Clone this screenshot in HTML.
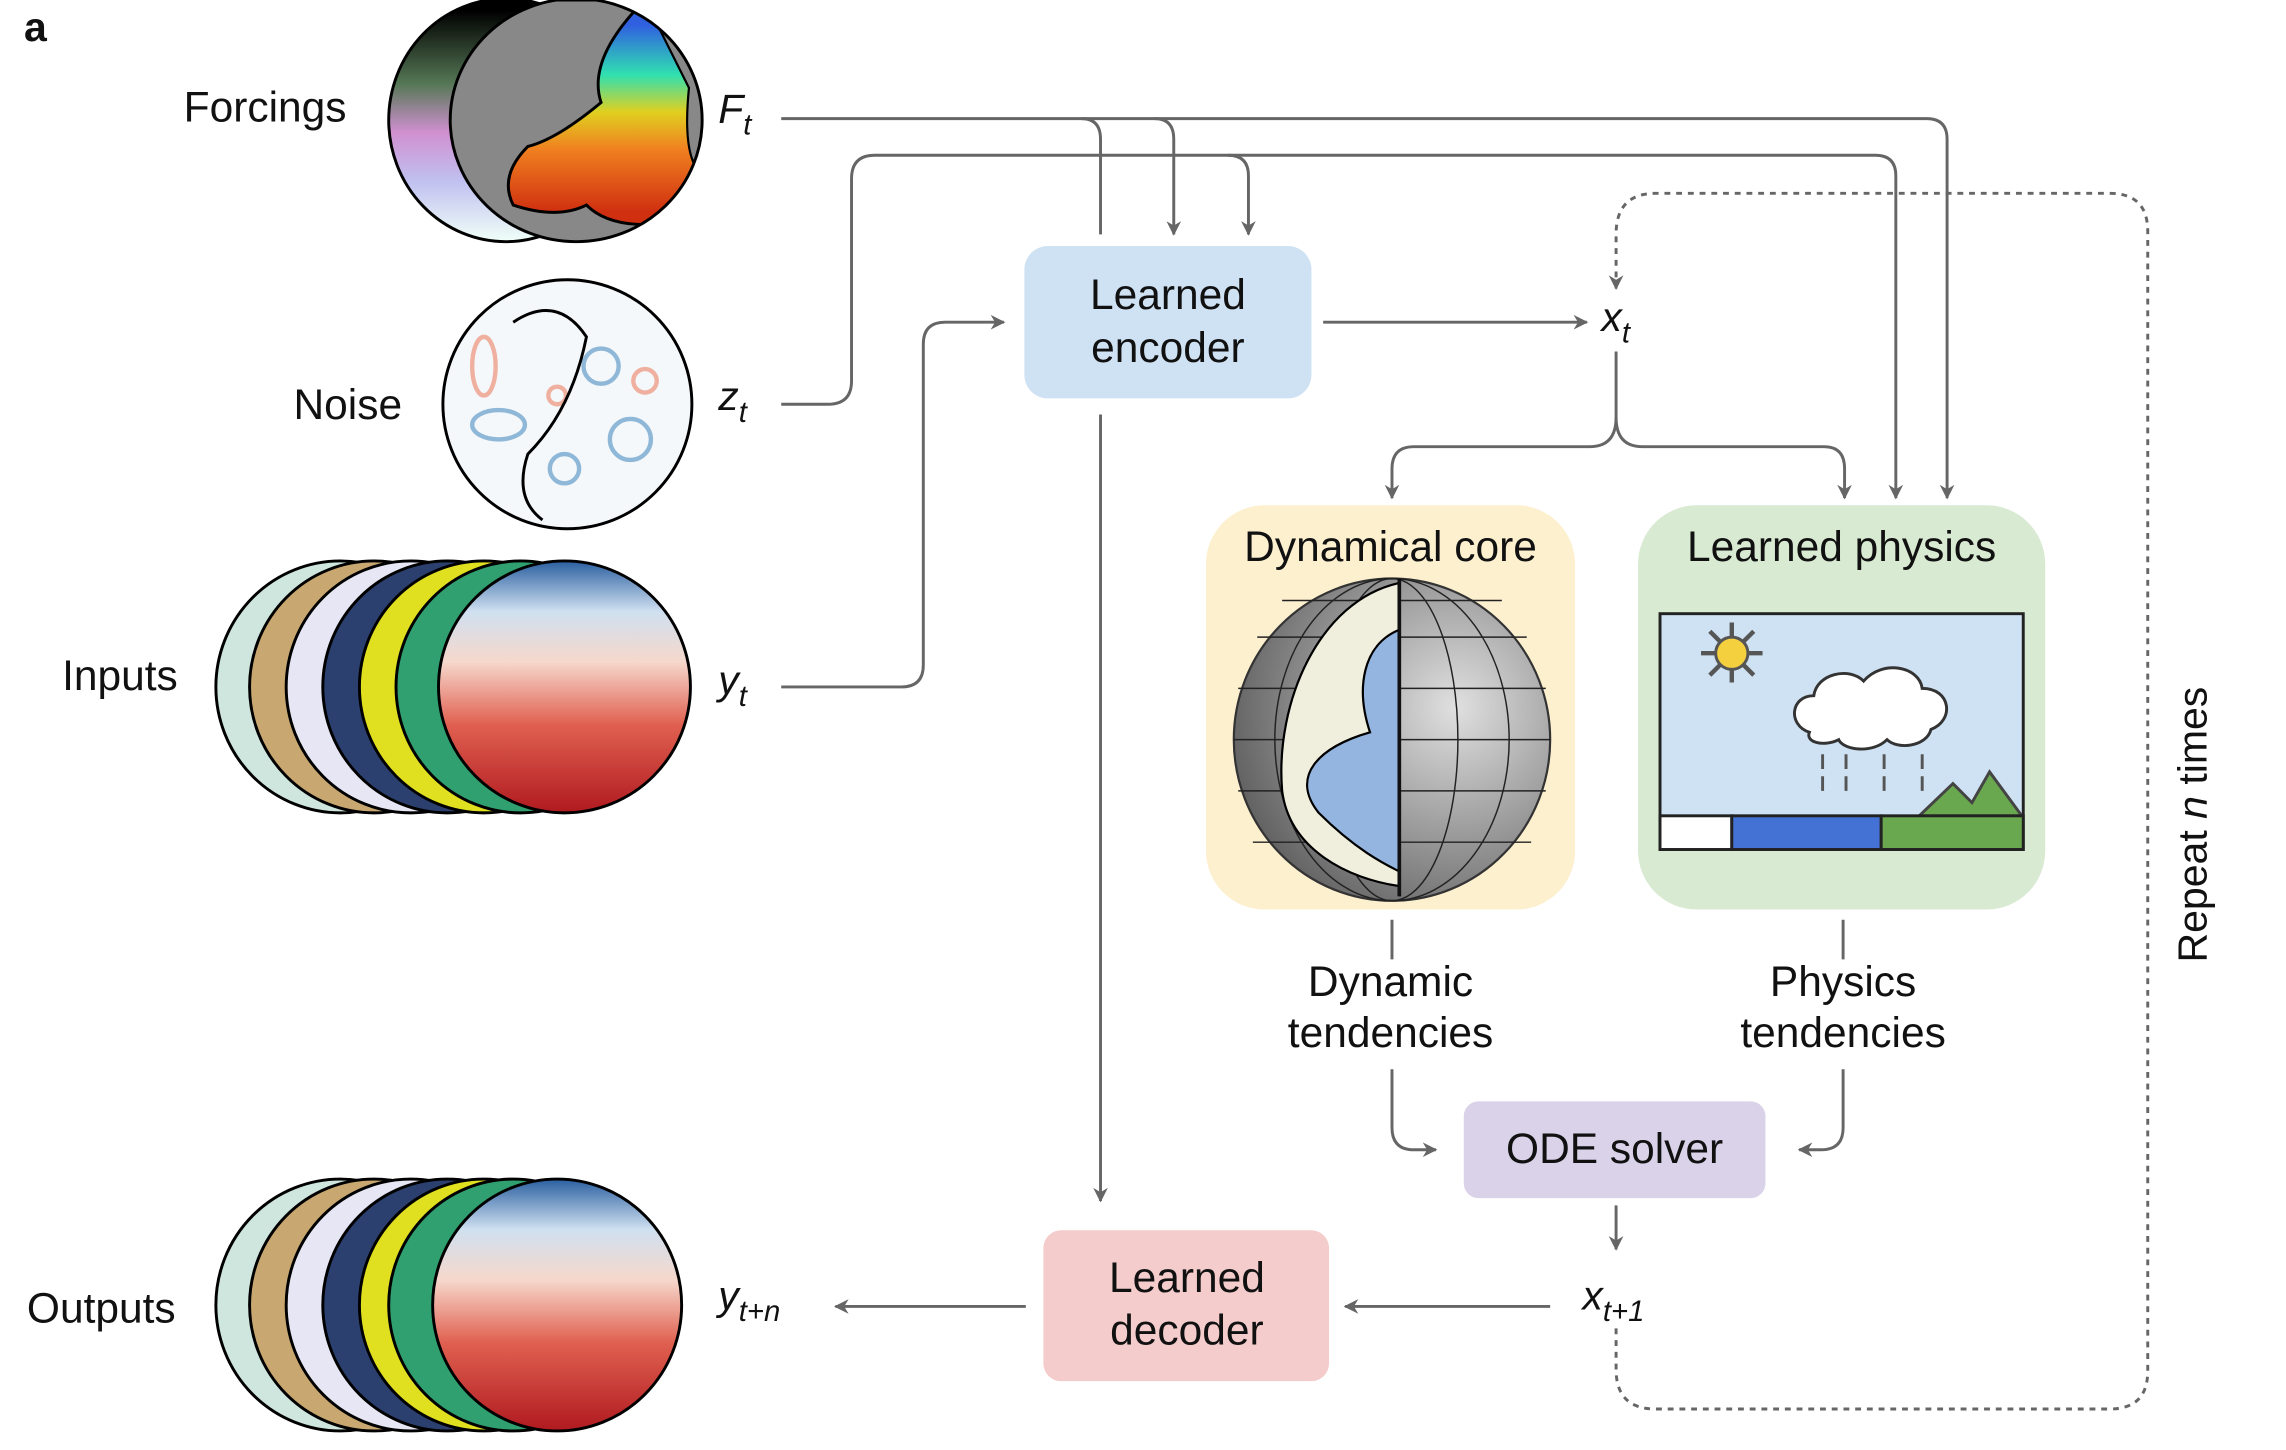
<!DOCTYPE html>
<html><head><meta charset="utf-8"><style>
html,body{margin:0;padding:0;background:#fff}
svg{display:block}
text{font-family:"Liberation Sans",sans-serif;fill:#111}
</style></head><body>
<svg width="2286" height="1450" viewBox="0 0 1560 990" xmlns="http://www.w3.org/2000/svg">
<defs>
<marker id="ar" viewBox="0 0 10 10" refX="9" refY="5" markerWidth="5" markerHeight="5" orient="auto"><path d="M0,0 L10,5 L0,10 L3,5 z" fill="#666"/></marker>
<linearGradient id="sst" x1="0" y1="0" x2="0" y2="1"><stop offset="0.1" stop-color="#3060e0"/><stop offset="0.3" stop-color="#30e0b0"/><stop offset="0.45" stop-color="#e0d020"/><stop offset="0.6" stop-color="#f08020"/><stop offset="0.85" stop-color="#d03010"/></linearGradient>
<linearGradient id="back" x1="0" y1="0" x2="0" y2="1"><stop offset="0.05" stop-color="#000"/><stop offset="0.35" stop-color="#557755"/><stop offset="0.55" stop-color="#d090d0"/><stop offset="0.75" stop-color="#c0c0f0"/><stop offset="1" stop-color="#f0fff8"/></linearGradient>
<linearGradient id="red" x1="0" y1="0" x2="0" y2="1"><stop offset="0" stop-color="#2a5fa0"/><stop offset="0.2" stop-color="#cfe0f0"/><stop offset="0.4" stop-color="#f6d8cc"/><stop offset="0.65" stop-color="#e06050"/><stop offset="1" stop-color="#b01a20"/></linearGradient>
<radialGradient id="gray" cx="0.7" cy="0.4" r="0.8"><stop offset="0" stop-color="#e0e0e0"/><stop offset="1" stop-color="#555"/></radialGradient>
<clipPath id="fc"><ellipse cx="393" cy="82" rx="86" ry="83"/></clipPath>
</defs>
<text x="16" y="28" font-size="28" font-weight="bold">a</text>

<!-- Forcings globes -->
<ellipse cx="345" cy="82" rx="80" ry="83" fill="url(#back)" stroke="#000" stroke-width="2"/>
<g clip-path="url(#fc)">
<rect x="300" y="0" width="180" height="170" fill="url(#sst)"/>
<path d="M300,0 H440 Q400,40 410,70 Q380,95 360,100 Q340,120 350,140 Q380,150 400,140 Q420,160 470,150 L480,170 H300Z" fill="#888" stroke="#000" stroke-width="2"/>
<path d="M440,0 H480 V120 Q465,110 470,60 Q455,30 440,0Z" fill="#888" stroke="#000" stroke-width="1.5"/>
</g>
<ellipse cx="393" cy="82" rx="86" ry="83" fill="none" stroke="#000" stroke-width="2"/>
<text x="125" y="83" font-size="29">Forcings</text>
<text x="490" y="84" font-size="28" font-style="italic">F<tspan font-size="20" dy="8">t</tspan></text>

<!-- Noise globe -->
<ellipse cx="387" cy="276" rx="85" ry="85" fill="#f4f8fb" stroke="#000" stroke-width="2"/>
<g fill="none" stroke="#8fb8d8" stroke-width="3"><circle cx="410" cy="250" r="12"/><circle cx="385" cy="320" r="10"/><ellipse cx="340" cy="290" rx="18" ry="10"/><circle cx="430" cy="300" r="14"/></g>
<g fill="none" stroke="#f0b0a0" stroke-width="3"><ellipse cx="330" cy="250" rx="8" ry="20"/><circle cx="440" cy="260" r="8"/><circle cx="380" cy="270" r="6"/></g>
<path d="M350,220 Q380,200 400,230 Q390,280 360,310 Q350,340 370,355" fill="none" stroke="#000" stroke-width="2"/>
<text x="200" y="286" font-size="29">Noise</text>
<text x="490" y="280" font-size="28" font-style="italic">z<tspan font-size="20" dy="8">t</tspan></text>

<!-- Inputs stack -->
<g stroke="#000" stroke-width="2">
<ellipse cx="232" cy="469" rx="85" ry="86" fill="#cfe6df"/>
<ellipse cx="255" cy="469" rx="85" ry="86" fill="#c8a870"/>
<ellipse cx="280" cy="469" rx="85" ry="86" fill="#e6e6f4"/>
<ellipse cx="305" cy="469" rx="85" ry="86" fill="#2c4070"/>
<ellipse cx="330" cy="469" rx="85" ry="86" fill="#e0e020"/>
<ellipse cx="355" cy="469" rx="85" ry="86" fill="#30a070"/>
<ellipse cx="385" cy="469" rx="86" ry="86" fill="url(#red)"/>
</g>
<text x="42" y="471" font-size="29">Inputs</text>
<text x="490" y="474" font-size="28" font-style="italic">y<tspan font-size="20" dy="8">t</tspan></text>

<!-- Outputs stack -->
<g stroke="#000" stroke-width="2">
<ellipse cx="232" cy="891" rx="85" ry="86" fill="#cfe6df"/>
<ellipse cx="255" cy="891" rx="85" ry="86" fill="#c8a870"/>
<ellipse cx="280" cy="891" rx="85" ry="86" fill="#e6e6f4"/>
<ellipse cx="305" cy="891" rx="85" ry="86" fill="#2c4070"/>
<ellipse cx="330" cy="891" rx="85" ry="86" fill="#e0e020"/>
<ellipse cx="350" cy="891" rx="85" ry="86" fill="#30a070"/>
<ellipse cx="380" cy="891" rx="85" ry="86" fill="url(#red)"/>
</g>
<text x="18" y="903" font-size="29">Outputs</text>
<text x="490" y="894" font-size="28" font-style="italic">y<tspan font-size="20" dy="8">t+n</tspan></text>

<!-- Boxes -->
<rect x="699" y="168" width="196" height="104" rx="16" fill="#cfe2f3"/>
<text x="797" y="211" font-size="29" text-anchor="middle">Learned</text>
<text x="797" y="247" font-size="29" text-anchor="middle">encoder</text>

<rect x="823" y="345" width="252" height="276" rx="40" fill="#fdf0cf"/>
<text x="949" y="383" font-size="29" text-anchor="middle">Dynamical core</text>
<ellipse cx="950" cy="505" rx="108" ry="110" fill="url(#gray)" stroke="#333" stroke-width="1.5"/>
<g fill="none" stroke="#222" stroke-width="1">
<ellipse cx="950" cy="505" rx="80" ry="110"/><ellipse cx="950" cy="505" rx="45" ry="110"/>
<path d="M845,470 H1055 M842,505 H1058 M845,540 H1055 M855,575 H1045 M858,435 H1042 M875,410 H1025"/>
</g>
<path d="M955,398 C900,410 870,480 875,540 C880,580 920,600 955,605 Z" fill="#f0eedd" stroke="#000" stroke-width="1.5"/>
<path d="M955,430 C930,440 925,470 935,500 C900,510 880,530 900,555 C925,580 945,590 955,595 Z" fill="#93b5e0" stroke="#000" stroke-width="1.5"/>
<line x1="955" y1="395" x2="955" y2="612" stroke="#111" stroke-width="2.5"/>

<rect x="1118" y="345" width="278" height="276" rx="40" fill="#d9ead3"/>
<text x="1257" y="383" font-size="29" text-anchor="middle">Learned physics</text>
<rect x="1133" y="419" width="248" height="161" fill="#cfe2f3" stroke="#222" stroke-width="2"/>
<g stroke="#555" stroke-width="3"><line x1="1182" y1="425" x2="1182" y2="466"/><line x1="1161" y1="446" x2="1203" y2="446"/><line x1="1167" y1="431" x2="1197" y2="461"/><line x1="1197" y1="431" x2="1167" y2="461"/></g>
<circle cx="1182" cy="446" r="11" fill="#f4d03f" stroke="#555" stroke-width="2"/>
<path d="M1235,500 C1220,495 1222,475 1238,475 C1240,460 1262,455 1272,465 C1285,450 1310,455 1312,470 C1332,470 1334,492 1318,498 C1315,510 1295,512 1288,505 C1278,515 1258,512 1255,505 C1245,510 1232,507 1235,500Z" fill="#fff" stroke="#333" stroke-width="2"/>
<g stroke="#555" stroke-width="2"><path d="M1244,515v10M1244,530v10M1260,515v10M1260,530v10M1286,515v10M1286,530v10M1312,515v10M1312,530v10"/></g>
<path d="M1310,557 L1333,535 L1346,548 L1358,527 L1380,557Z" fill="#6aa84f" stroke="#444" stroke-width="2"/>
<rect x="1133" y="557" width="49" height="23" fill="#fff" stroke="#222" stroke-width="2"/>
<rect x="1182" y="557" width="102" height="23" fill="#4472d4" stroke="#222" stroke-width="2"/>
<rect x="1284" y="557" width="97" height="23" fill="#6aa84f" stroke="#222" stroke-width="2"/>

<text x="949" y="680" font-size="29" text-anchor="middle">Dynamic</text>
<text x="949" y="715" font-size="29" text-anchor="middle">tendencies</text>
<text x="1258" y="680" font-size="29" text-anchor="middle">Physics</text>
<text x="1258" y="715" font-size="29" text-anchor="middle">tendencies</text>

<rect x="999" y="752" width="206" height="66" rx="10" fill="#d9d2e9"/>
<text x="1102" y="794" font-size="29" text-anchor="middle">ODE solver</text>

<rect x="712" y="840" width="195" height="103" rx="12" fill="#f4cccc"/>
<text x="810" y="882" font-size="29" text-anchor="middle">Learned</text>
<text x="810" y="918" font-size="29" text-anchor="middle">decoder</text>

<text x="1093" y="226" font-size="28" font-style="italic">x<tspan font-size="20" dy="8">t</tspan></text>
<text x="1080" y="894" font-size="28" font-style="italic">x<tspan font-size="20" dy="8">t+1</tspan></text>
<text transform="translate(1506,563) rotate(-90)" font-size="28" text-anchor="middle">Repeat <tspan font-style="italic">n</tspan> times</text>

<!-- Connectors -->
<g fill="none" stroke="#666" stroke-width="2">
<path d="M533,81 H1315 Q1329,81 1329,95 V340" marker-end="url(#ar)"/>
<path d="M738,81 Q751,81 751,95 V160"/>
<path d="M788,81 Q801,81 801,95 V160" marker-end="url(#ar)"/>
<path d="M533,276 H565 Q581,276 581,260 V122 Q581,106 597,106 H1280 Q1294,106 1294,120 V340" marker-end="url(#ar)"/>
<path d="M838,106 Q852,106 852,120 V160" marker-end="url(#ar)"/>
<path d="M533,469 H615 Q630,469 630,454 V235 Q630,220 645,220 H685" marker-end="url(#ar)"/>
<path d="M903,220 H1083" marker-end="url(#ar)"/>
<path d="M1103,240 V285 Q1103,305 1085,305 H965 Q950,305 950,320 V340" marker-end="url(#ar)"/>
<path d="M1103,285 Q1103,305 1121,305 H1245 Q1259,305 1259,320 V340" marker-end="url(#ar)"/>
<path d="M751,283 V820" marker-end="url(#ar)"/>
<path d="M950,628 V655 M1258,628 V655"/>
<path d="M950,730 V770 Q950,785 965,785 H980" marker-end="url(#ar)"/>
<path d="M1258,730 V770 Q1258,785 1243,785 H1228" marker-end="url(#ar)"/>
<path d="M1103,823 V853" marker-end="url(#ar)"/>
<path d="M1058,892 H918" marker-end="url(#ar)"/>
<path d="M700,892 H570" marker-end="url(#ar)"/>
<path d="M1103,907 V935 Q1103,962 1130,962 H1440 Q1466,962 1466,936 V158 Q1466,132 1440,132 H1130 Q1103,132 1103,160 V197" stroke-dasharray="4,4" marker-end="url(#ar)"/>
</g>
</svg>
</body></html>
